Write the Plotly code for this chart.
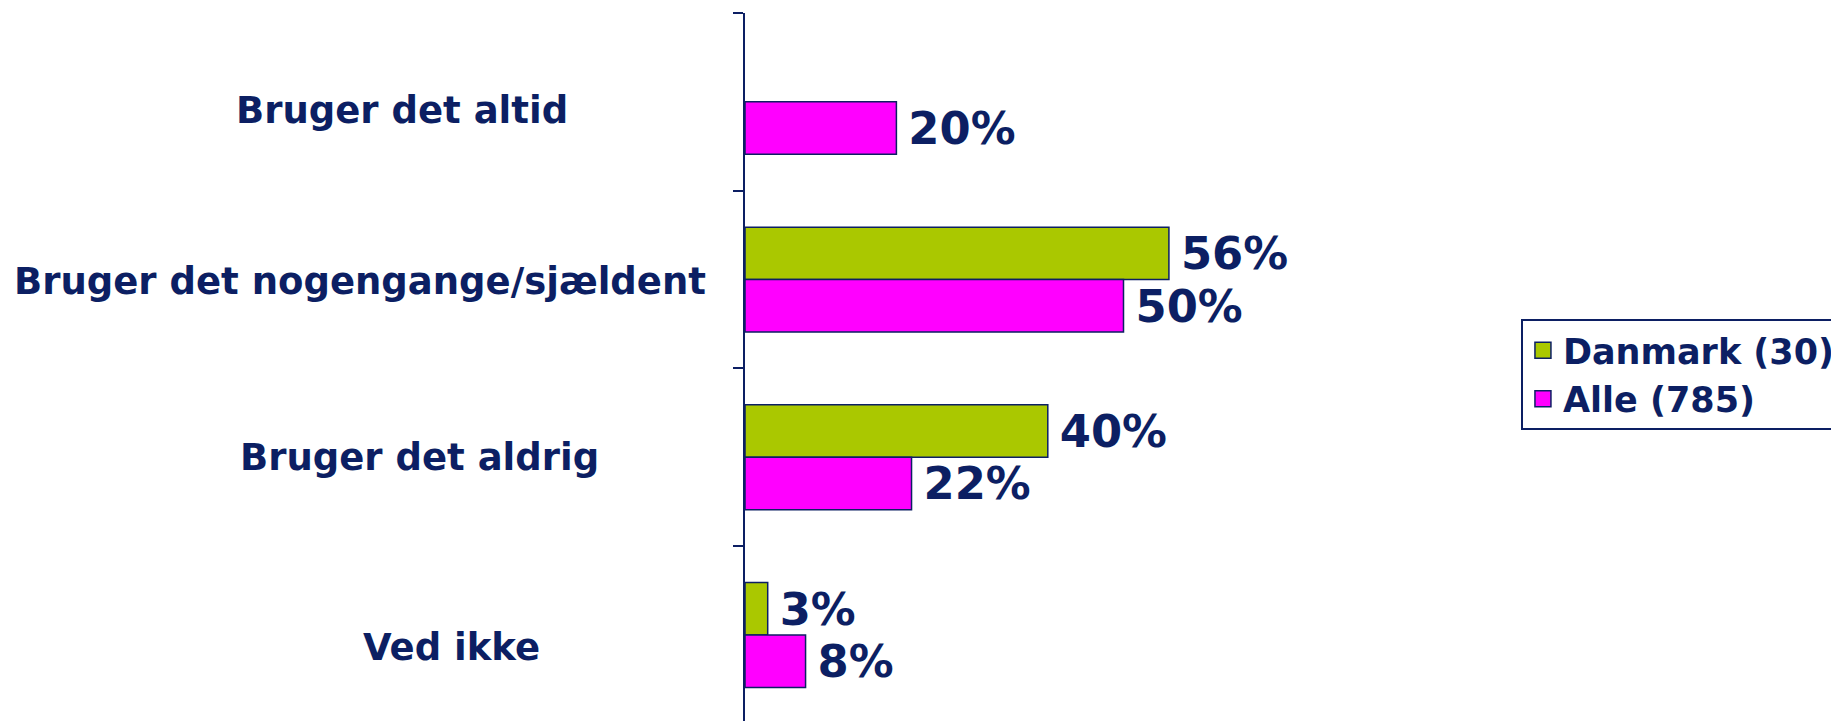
import plotly.graph_objects as go

# Answer categories, top to bottom
categories = [
    "Bruger det altid",
    "Bruger det nogengange/sjældent",
    "Bruger det aldrig",
    "Ved ikke",
]
danmark = [None, 56, 40, 3]
alle = [20, 50, 22, 8]

NAVY = "#0c1f63"
GREEN = "#aac800"
PINK = "#ff00ff"
FONT = "DejaVu Sans"

fig = go.Figure()
for name, vals, col in [("Danmark (30)", danmark, GREEN), ("Alle (785)", alle, PINK)]:
    fig.add_trace(go.Bar(
        y=categories, x=vals, orientation="h", name=name, showlegend=False,
        marker=dict(color=col, line=dict(color=NAVY, width=1.5)),
        texttemplate="\u2009%{x}%", textposition="outside", cliponaxis=False,
        textfont=dict(family=FONT, size=47, color=NAVY, weight="bold"),
    ))
    # legend-only entry so the swatch can be bigger than plotly's bar swatch
    fig.add_trace(go.Scatter(
        x=[None], y=[None], mode="markers", name=name,
        marker=dict(symbol="square", size=18, color=col, line=dict(color=NAVY, width=1.5)),
    ))

# category labels sit at uneven horizontal centres in the original
label_x = [-0.453, -0.509, -0.430, -0.388]
label_dy = [9, 2, 0, 13]
for cat, lx, dy in zip(categories, label_x, label_dy):
    fig.add_annotation(
        x=lx, xref="paper", y=cat, yref="y", yshift=-dy,
        text=cat, showarrow=False, xanchor="center",
        font=dict(family=FONT, size=37, color=NAVY, weight="bold"),
    )

# page body adds 8px margin, so shift everything up/left by 8
fig.update_layout(
    width=1839, height=721,
    margin=dict(l=737, r=345, t=5, b=0),
    plot_bgcolor="white", paper_bgcolor="white",
    barmode="group", bargap=0.41, bargroupgap=0,
    showlegend=True,
    legend=dict(
        xref="container", yref="container", x=0.8227, y=0.5687,
        xanchor="left", yanchor="top", traceorder="normal",
        bordercolor=NAVY, borderwidth=2, bgcolor="white",
        font=dict(family=FONT, size=35, color=NAVY, weight="bold"),
        itemwidth=30,
    ),
    xaxis=dict(range=[0, 100], visible=False),
    yaxis=dict(
        type="category", categoryorder="array", categoryarray=categories,
        range=[3.529, -0.5], showticklabels=False,
        showline=True, linecolor=NAVY, linewidth=2,
        ticks="outside", tickson="boundaries", ticklen=10, tickwidth=2,
        tickcolor=NAVY, showgrid=False, zeroline=False,
    ),
)

fig.write_html("out.html")
